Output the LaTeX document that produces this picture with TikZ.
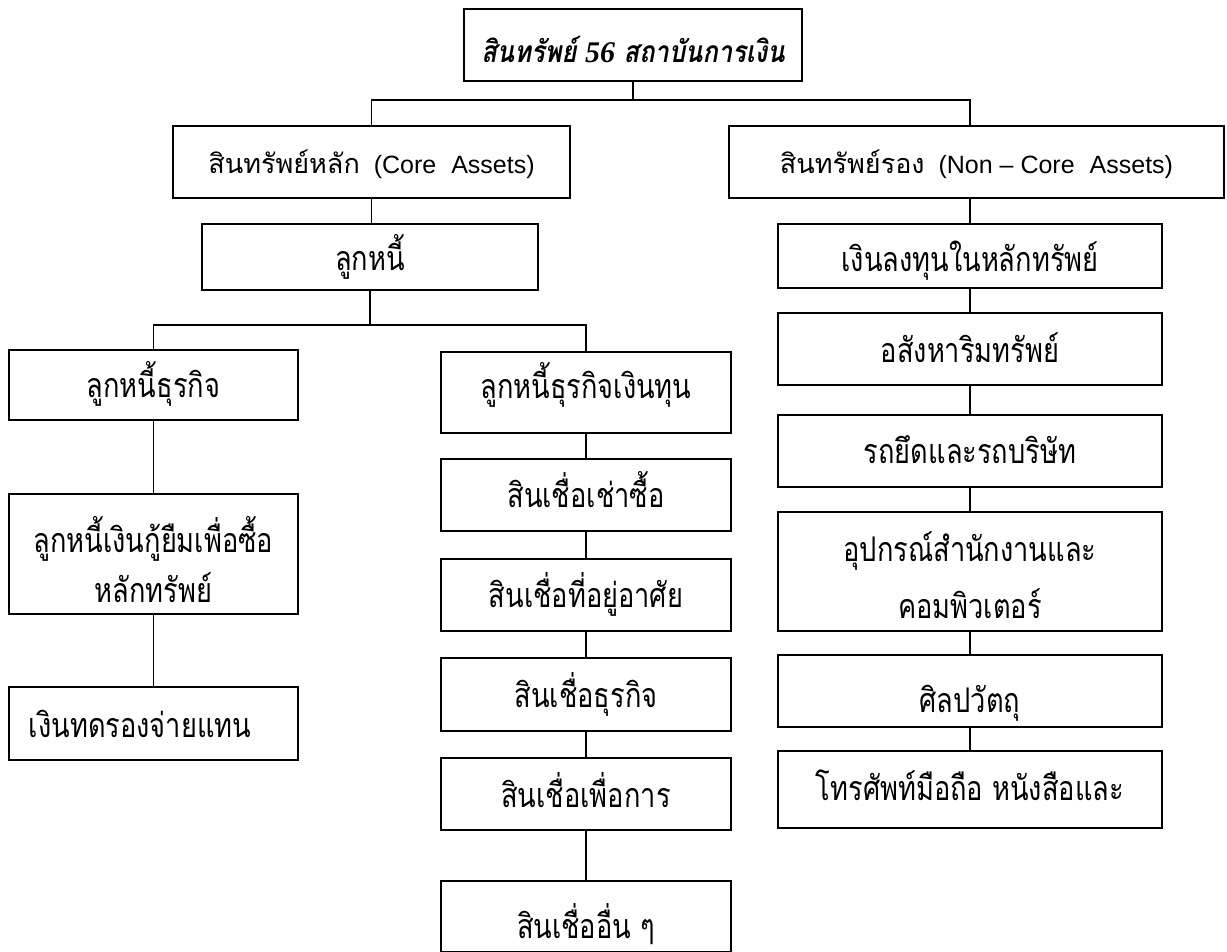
\documentclass[tikz,border=0pt]{standalone}
\usepackage{fontspec}
\setmainfont{Liberation Sans}
\newfontfamily\thai[Script=Thai]{Loma}
\newfontfamily\thaibody[Script=Thai,FakeStretch=0.8]{Loma}
\newfontfamily\thaititle[Script=Thai,FakeStretch=0.85]{Loma}
\newfontfamily\titleserif{Liberation Serif}
% one line of text whose baseline sits #1pt below the box centre
\newcommand\placetext[2]{\raisebox{-#1pt}[0pt][0pt]{#2}}
% two centred lines, #2pt apart, the last baseline #1pt below the box centre
\newcommand\placetwo[4]{\raisebox{-#1pt}[0pt][0pt]{\vbox{\baselineskip=#2pt\lineskiplimit=-100pt
  \halign{\hfil##\hfil\cr#3\cr#4\cr}}}}
\begin{document}
\begin{tikzpicture}[x=1pt,y=-1pt,
  box/.style={draw, line width=1.4pt, inner sep=0pt,
    font=\fontsize{34}{40}\thaibody},
  head/.style={box, font=\fontsize{25}{30}\selectfont},
  link/.style={line width=1.3pt}]
\useasboundingbox (0,0) rectangle (1227,952);

% top of the tree
\node[box, minimum width=338pt, minimum height=72pt,
  font=\fontsize{30}{36}\thaititle\bfseries\itshape] (T) at (633,45)
  {\placetext{18}{สินทรัพย์ {\titleserif 56} สถาบันการเงิน}};

% the two asset groups
\node[head, minimum width=397pt, minimum height=72pt] (C) at (371.5,162)
  {\placetext{11.5}{{\fontsize{27}{30}\thai สินทรัพย์หลัก}~ (Core\hspace{0.6em}Assets)}};
\node[head, minimum width=495pt, minimum height=72pt] (N) at (976.5,162)
  {\placetext{11.5}{{\fontsize{27}{30}\thai สินทรัพย์รอง}~ (Non -- Core\hspace{0.6em}Assets)}};

% core assets
\node[box, minimum width=336pt, minimum height=66pt] (L) at (370,257) {\placetext{14}{ลูกหนี้}};

\node[box, minimum width=289pt, minimum height=70pt] (A1) at (153.5,385) {\placetext{12}{ลูกหนี้ธุรกิจ}};
\node[box, minimum width=289pt, minimum height=120pt] (A2) at (153.5,554)
  {\placetwo{48}{50}{ลูกหนี้เงินกู้ยืมเพื่อซื้อ}{หลักทรัพย์}};
\node[box, minimum width=289pt, minimum height=73pt] (A3) at (153.5,723.5)
  {\placetext{13.5}{เงินทดรองจ่ายแทน\hspace{27pt}}};

\node[box, minimum width=290pt, minimum height=81pt] (M1) at (586,392.5) {\placetext{6}{ลูกหนี้ธุรกิจเงินทุน}};
\node[box, minimum width=290pt, minimum height=72pt] (M2) at (586,495) {\placetext{12}{สินเชื่อเช่าซื้อ}};
\node[box, minimum width=290pt, minimum height=72pt] (M3) at (586,595) {\placetext{12}{สินเชื่อที่อยู่อาศัย}};
\node[box, minimum width=290pt, minimum height=73pt] (M4) at (586,694.5) {\placetext{12.5}{สินเชื่อธุรกิจ}};
\node[box, minimum width=290pt, minimum height=72pt] (M5) at (586,794) {\placetext{13}{สินเชื่อเพื่อการ}};
\node[box, minimum width=290pt, minimum height=71pt] (M6) at (586,916.5) {\placetext{21.5}{สินเชื่ออื่น ๆ}};

% non-core assets
\node[box, minimum width=384pt, minimum height=64pt] (R1) at (970,256) {\placetext{16}{เงินลงทุนในหลักทรัพย์}};
\node[box, minimum width=384pt, minimum height=72pt] (R2) at (970,349) {\placetext{13}{อสังหาริมทรัพย์}};
\node[box, minimum width=384pt, minimum height=72pt] (R3) at (970,451) {\placetext{12}{รถยึดและรถบริษัท}};
\node[box, minimum width=384pt, minimum height=119pt] (R4) at (970,571.5)
  {\placetwo{46.5}{57}{อุปกรณ์สำนักงานและ}{คอมพิวเตอร์}};
\node[box, minimum width=384pt, minimum height=72pt] (R5) at (970,691) {\placetext{21}{ศิลปวัตถุ}};
\node[box, minimum width=384pt, minimum height=77pt] (R6) at (970,789.5) {\placetext{10.5}{โทรศัพท์มือถือ หนังสือและ}};

% connectors
\coordinate (bar1) at (0,100);
\coordinate (bar2) at (0,325);
\draw[link] (T.south) -- (T.south |- bar1);
\draw[link] (C.north) -- (C.north |- bar1) -- (R1.north |- bar1) -- (R1.north |- N.north);
\draw[link] (C.south) -- (C.south |- L.north);
\draw[link] (R1.north |- N.south) -- (R1.north);
\draw[link] (L.south) -- (L.south |- bar2);
\draw[link] (A1.north) -- (A1.north |- bar2) -- (M1.north |- bar2) -- (M1.north);
\draw[link] (A1.south) -- (A2.north);
\draw[link] (A2.south) -- (A3.north);
\foreach \a/\b in {M1/M2,M2/M3,M3/M4,M4/M5,M5/M6,R1/R2,R2/R3,R3/R4,R4/R5,R5/R6}
  \draw[link] (\a.south) -- (\b.north);
\end{tikzpicture}
\end{document}
